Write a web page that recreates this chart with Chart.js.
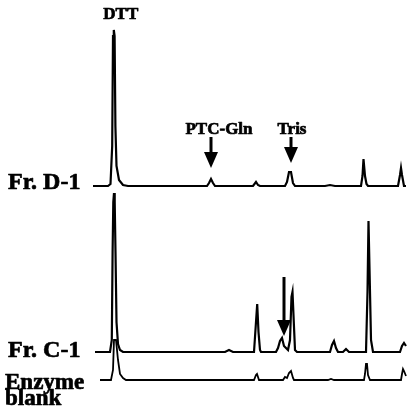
<!DOCTYPE html>
<html>
<head>
<meta charset="utf-8">
<script src="https://cdn.jsdelivr.net/npm/chart.js@4.4.1/dist/chart.umd.min.js"></script>
<style>
  html, body { margin: 0; padding: 0; background: #fff; }
  #wrap { position: relative; width: 407px; height: 412px; }
</style>
</head>
<body>
<div id="wrap"><canvas id="chrom" width="407" height="412"></canvas></div>
<script>
// Retention time (arb. min) and detector response above each trace's baseline
const d1Time = [0, 1.5, 1.75, 1.92, 2.0, 2.08, 2.16, 2.24, 2.35, 2.6, 3.0, 3.5, 5.7, 8.7, 11.4, 11.6, 11.8, 12.0, 12.2,
  16.0, 16.3, 16.5, 16.7, 19.2, 19.4, 19.6, 19.8, 20.0, 20.2, 23.2, 23.7, 24.2,
  26.8, 26.95, 27.05, 27.2, 27.35, 27.5, 30.5, 30.7, 30.8, 30.9, 31.1, 31.3];
const d1Resp = [0, 0, 2, 40, 150, 156, 150, 60, 20, 6, 1, 0, 0, 0, 0, 3, 7, 3, 0,
  0, 4, 1, 0, 0, 4, 14, 14, 3, 0, 0, 1, 0,
  0, 10, 27, 10, 2, 0, 0, 11, 18, 11, 0, 0];

const c1Time = [0.2, 1.7, 1.88, 1.96, 2.03, 2.1, 2.17, 2.25, 2.35, 2.5, 2.7, 3.0, 13.2, 13.6, 14.0,
  16.1, 16.3, 16.42, 16.55, 16.7, 16.8, 18.3, 18.5, 18.7, 18.9, 19.1, 19.3, 19.5,
  19.7, 19.85, 19.95, 20.1, 20.2, 20.4, 23.7, 23.9, 24.1, 24.3, 24.5, 25.0, 25.3, 25.6,
  27.3, 27.45, 27.55, 27.7, 27.8, 28.0, 30.7, 30.9, 31.1, 31.3];
const c1Resp = [0, 0, 12, 100, 150, 159, 150, 100, 30, 8, 2, 0, 0, 2, 0,
  0, 30, 48, 20, 2, 0, 0, 4, 11, 14, 6, 4, 2,
  12, 55, 60, 25, 2, 0, 0, 7, 11, 4, 0, 0, 3, 0,
  0, 60, 131, 60, 12, 0, 0, 6, 9, 6];

const blankTime = [0.7, 1.8, 2.0, 2.1, 2.3, 2.5, 2.7, 3.0, 3.3, 16.1, 16.3, 16.4, 16.6,
  19.0, 19.2, 19.4, 19.6, 19.8, 20.0, 20.1, 23.5, 23.8, 24.1,
  27.1, 27.2, 27.3, 27.4, 27.5, 27.7, 30.8, 30.9, 31.0, 31.1, 31.3];
const blankResp = [0, 0, 10, 40, 40, 20, 6, 2, 0, 0, 5, 6, 0,
  0, 3, 2, 7, 9, 2, 0, 0, 1, 0,
  0, 6, 16, 16, 5, 0, 0, 6, 11, 9, 4];

const traceNames = ['Fr. D-1', 'Fr. C-1', 'Enzyme blank'];
const traceOffsets = [226, 60, 32];

const peakLabels = ['DTT', 'PTC-Gln', 'Tris'];
const peakTimes = [2.08, 11.8, 19.8];

function toPoints(times, resp, offset) {
  return times.map((t, i) => ({ x: t, y: resp[i] + offset }));
}

const serif = '"Liberation Serif", "Times New Roman", serif';

// Labels and arrows drawn on top of the traces
const annotations = {
  id: 'annotations',
  afterDatasetsDraw(chart) {
    const ctx = chart.ctx;
    const xs = chart.scales.x;
    const ys = chart.scales.y;
    ctx.save();
    ctx.fillStyle = '#000';
    ctx.strokeStyle = '#000';
    ctx.lineJoin = 'round';

    function text(s, x, y) {
      ctx.lineWidth = 0.7;
      ctx.fillText(s, x, y);
      ctx.strokeText(s, x, y);
    }

    // trace names at the left
    ctx.textAlign = 'left';
    ctx.textBaseline = 'alphabetic';
    ctx.font = 'bold 24px ' + serif;
    text('Fr. D-1', 8, ys.getPixelForValue(traceOffsets[0]) + 3);
    text('Fr. C-1', 8, ys.getPixelForValue(traceOffsets[1]) + 5);
    ctx.font = 'bold 23px ' + serif;
    text('Enzyme', 5, ys.getPixelForValue(traceOffsets[2]) + 9);
    text('blank', 5, ys.getPixelForValue(traceOffsets[2]) + 25);

    // peak names
    ctx.textAlign = 'center';
    ctx.font = 'bold 17px ' + serif;
    text(peakLabels[0], xs.getPixelForValue(peakTimes[0]) + 7, 19);
    text(peakLabels[1], xs.getPixelForValue(peakTimes[1]) + 8, 134);
    text(peakLabels[2], xs.getPixelForValue(peakTimes[2]) + 1, 134);

    function arrow(x, yTop, yHead, yTip, half) {
      ctx.lineWidth = 3;
      ctx.beginPath();
      ctx.moveTo(x, yTop);
      ctx.lineTo(x, yHead + 1);
      ctx.stroke();
      ctx.beginPath();
      ctx.moveTo(x - half, yHead);
      ctx.lineTo(x + half, yHead);
      ctx.lineTo(x, yTip);
      ctx.closePath();
      ctx.fill();
    }
    arrow(xs.getPixelForValue(peakTimes[1]), 137, 152, 168, 7);
    arrow(xs.getPixelForValue(peakTimes[2]), 137, 147, 163, 7);
    arrow(xs.getPixelForValue(19.1), 277, 320, 336, 7);
    ctx.restore();
  }
};

new Chart(document.getElementById('chrom'), {
  type: 'line',
  data: {
    datasets: [
      { label: traceNames[0], data: toPoints(d1Time, d1Resp, traceOffsets[0]), borderWidth: 2.2 },
      { label: traceNames[1], data: toPoints(c1Time, c1Resp, traceOffsets[1]), borderWidth: 2.2 },
      { label: traceNames[2], data: toPoints(blankTime, blankResp, traceOffsets[2]), borderWidth: 1.8 }
    ].map(ds => Object.assign(ds, {
      borderColor: '#000',
      pointRadius: 0,
      tension: 0,
      fill: false,
      clip: false
    }))
  },
  options: {
    responsive: false,
    animation: false,
    devicePixelRatio: 1,
    layout: { padding: { left: 93, right: 0, top: 0, bottom: 0 } },
    plugins: { legend: { display: false }, tooltip: { enabled: false } },
    scales: {
      x: { type: 'linear', min: 0, max: 31.4, display: false },
      y: { type: 'linear', min: 0, max: 412, display: false }
    }
  },
  plugins: [annotations]
});
</script>
</body>
</html>
